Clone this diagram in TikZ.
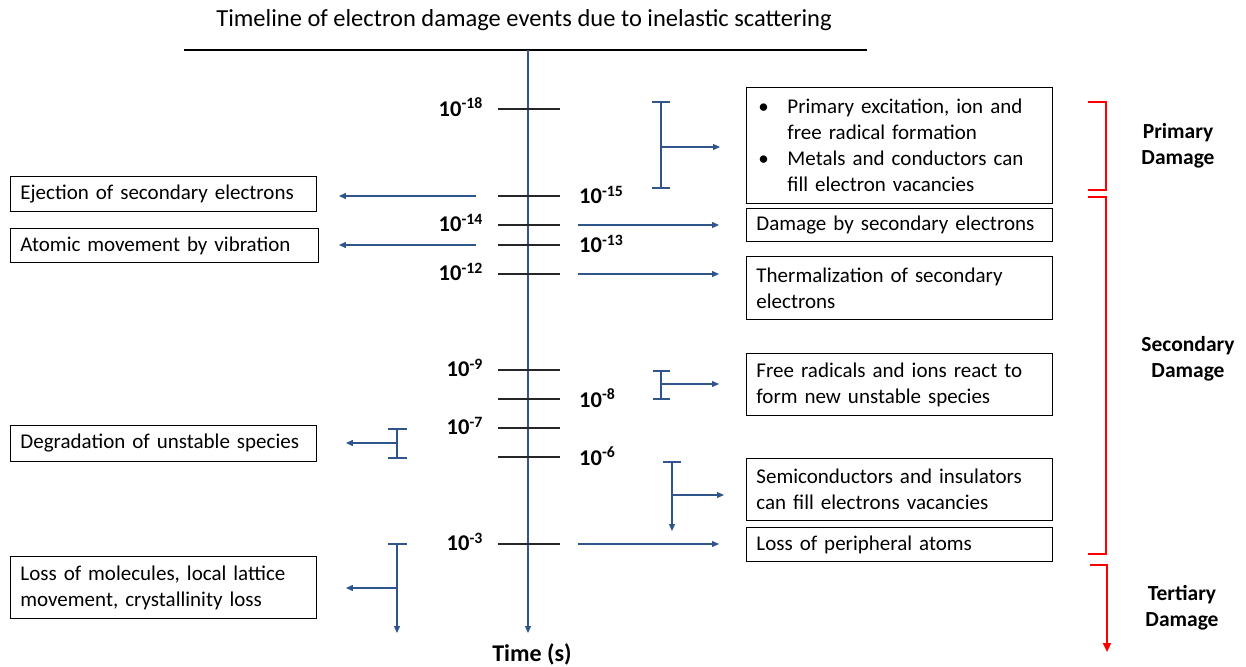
\documentclass[tikz,border=0pt]{standalone}
\usepackage{fontspec}
\setmainfont{Carlito}
\usetikzlibrary{arrows.meta}
\definecolor{timeblue}{RGB}{47,85,140}
\definecolor{damagered}{RGB}{255,0,0}

\begin{document}
\begin{tikzpicture}[x=1pt, y=-1pt,
    event/.style = {draw,
      line width = 0.9pt,
      align = left,
      anchor = north west,
      inner xsep = 10pt,
      inner ysep = 0pt,
      text width = #1,
      font = \fontsize{21}{26}\selectfont},
    event/.default = 286pt,
    tick/.style = {line width = 1.5pt, black!85},
    power/.style = {font = \bfseries\fontsize{22.5}{24}\selectfont, inner sep = 0pt},
    flow/.style = {line width = 1.2pt, timeblue, -{Triangle[length=7pt, width=6pt]}},
    span/.style = {line width = 1.2pt, timeblue},
    phase/.style = {line width = 2pt, damagered},
    phasename/.style = {align = center, font = \bfseries\fontsize{21.5}{26}\selectfont}]

\useasboundingbox (0,0) rectangle (1246,666);

% title and time axis
\node (title) at (524,20) [font = \fontsize{24.5}{28}\selectfont] {Timeline of electron damage events due to inelastic scattering};
\coordinate (rule west) at (184,50);
\coordinate (rule east) at (867,50);
\draw [line width = 1.3pt] (rule west) -- (rule east);
\coordinate (axis top) at (528,50);
\coordinate (axis end) at (528,633);
\draw [flow] (axis top) -- (axis end);
\node (time) at (532,654) [font = \bfseries\fontsize{24}{26}\selectfont] {Time (s)};

% ticks: y / exponent / side of label
\foreach \y/\e/\side in {109/18/l, 196/15/r, 225/14/l, 245/13/r, 274/12/l,
                        370/9/l, 399/8/r, 428/7/l, 457/6/r, 544/3/l} {
  \coordinate (t\e) at (528,\y);
  \draw [tick] ([xshift=-30pt]t\e) -- ([xshift=32pt]t\e);
  \if l\side
    \node (p\e) [power, anchor = east] at (483,\y-2) {10\textsuperscript{-\e}};
  \else
    \node (p\e) [power, anchor = west] at (579,\y-1) {10\textsuperscript{-\e}};
  \fi
}

% right hand events
\node (primary) [event, minimum height = 116pt] at (746,87)
  {\makebox[31pt][l]{\hspace{2pt}\textbullet}Primary excitation, ion and\\
   \hspace*{31pt}free radical formation\\
   \makebox[31pt][l]{\hspace{2pt}\textbullet}Metals and conductors can\\
   \hspace*{31pt}fill electron vacancies};
\node (damage) [event, minimum height = 33pt] at (746,208) {Damage by secondary electrons};
\node (thermal) [event, minimum height = 63pt] at (746,256) {Thermalization of secondary\\electrons};
\node (radicals) [event, minimum height = 62pt] at (746,353) {Free radicals and ions react to\\form new unstable species};
\node (semi) [event, minimum height = 62pt] at (746,458) {Semiconductors and insulators\\can fill electrons vacancies};
\node (peripheral) [event, minimum height = 34pt] at (746,527) {Loss of peripheral atoms};

% left hand events
\node (ejection) [event, minimum height = 35pt] at (10,176) {Ejection of secondary electrons};
\node (vibration) [event = 288pt, minimum height = 34pt] at (10,228) {Atomic movement by vibration};
\node (degradation) [event, minimum height = 36pt] at (10,425) {Degradation of unstable species};
\node (lattice) [event, minimum height = 62pt] at (10,556) {Loss of molecules, local lattice\\movement, crystallinity loss};

% single arrows
\draw [flow] (476,196) -- ([xshift=22pt]ejection.east |- t15);
\draw [flow] ([xshift=50pt]t14) -- ([xshift=-27pt]damage.west |- t14);
\draw [flow] (476,245) -- ([xshift=20pt]vibration.east |- t13);
\draw [flow] ([xshift=50pt]t12) -- ([xshift=-27pt]thermal.west |- t12);
\draw [flow] ([xshift=50pt]t3) -- ([xshift=-27pt]peripheral.west |- t3);

% spans with caps
\coordinate (s1 top) at (661,102);
\coordinate (s1 bot) at (661,188);
\draw [span] (s1 top) -- (s1 bot);
\draw [span] ([xshift=-9pt]s1 top) -- ([xshift=9pt]s1 top);
\draw [span] ([xshift=-9pt]s1 bot) -- ([xshift=9pt]s1 bot);
\draw [flow] (661,147) -- ([xshift=-26pt]primary.west |- 0,147);

\coordinate (s2 top) at (661,371);
\coordinate (s2 bot) at (661,399);
\draw [span] (s2 top) -- (s2 bot);
\draw [span] ([xshift=-8pt]s2 top) -- ([xshift=9pt]s2 top);
\draw [span] ([xshift=-8pt]s2 bot) -- ([xshift=9pt]s2 bot);
\draw [flow] (661,384) -- ([xshift=-27pt]radicals.west |- 0,384);

\coordinate (s3 top) at (397,429);
\coordinate (s3 bot) at (397,458);
\draw [span] (s3 top) -- (s3 bot);
\draw [span] ([xshift=-9pt]s3 top) -- ([xshift=10pt]s3 top);
\draw [span] ([xshift=-9pt]s3 bot) -- ([xshift=10pt]s3 bot);
\draw [flow] (397,443) -- ([xshift=29pt]degradation.east |- 0,443);

\coordinate (s4 top) at (672,462);
\coordinate (s4 end) at (672,531);
\draw [span] ([xshift=-9pt]s4 top) -- ([xshift=9pt]s4 top);
\draw [flow] (s4 top) -- (s4 end);
\draw [flow] (672,495) -- ([xshift=-22pt]semi.west |- 0,495);

\coordinate (s5 top) at (397,544);
\coordinate (s5 end) at (397,633);
\draw [span] ([xshift=-9pt]s5 top) -- ([xshift=10pt]s5 top);
\draw [flow] (s5 top) -- (s5 end);
\draw [flow] (397,588) -- ([xshift=29pt]lattice.east |- 0,588);

% damage phases
\draw [phase] (1088,102) -- (1106,102) -- (1106,190) -- (1088,190);
\draw [phase] (1088,197) -- (1106,197) -- (1106,554) -- (1088,554);
\draw [phase, -{Triangle[length=9pt, width=8pt]}] (1090,565) -- (1107,565) -- (1107,652);
\node (primary phase) [phasename] at (1178,146) {Primary\\Damage};
\node (secondary phase) [phasename] at (1188,359) {Secondary\\Damage};
\node (tertiary phase) [phasename] at (1182,608) {Tertiary\\Damage};

\end{tikzpicture}
\end{document}
